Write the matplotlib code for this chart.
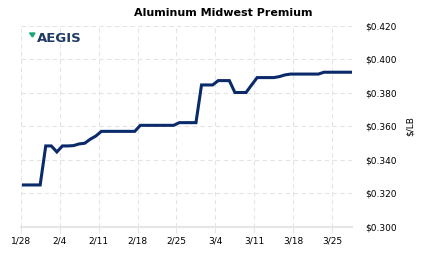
import numpy as np
import matplotlib
matplotlib.use("Agg")
import matplotlib.pyplot as plt
import matplotlib.dates as mdates
from datetime import datetime, timedelta

# daily premium values, $/LB, starting 1/28
start = datetime(2022, 1, 28)
prices = [
    0.3251, 0.3251, 0.3251, 0.3251, 0.3484, 0.3484, 0.3448, 0.3484, 0.3484, 0.3486,
    0.3496, 0.3500, 0.3524, 0.3543, 0.3571, 0.3571, 0.3571, 0.3571, 0.3571, 0.3571,
    0.3571, 0.3607, 0.3607, 0.3607, 0.3607, 0.3607, 0.3607, 0.3607, 0.3623, 0.3623,
    0.3623, 0.3623, 0.3848, 0.3848, 0.3848, 0.3874, 0.3874, 0.3874, 0.3803, 0.3803,
    0.3803, 0.3848, 0.3892, 0.3892, 0.3892, 0.3892, 0.3898, 0.3908, 0.3913, 0.3913,
    0.3913, 0.3913, 0.3913, 0.3913, 0.3924, 0.3924, 0.3924, 0.3924, 0.3924, 0.3924,
]
dates = [start + timedelta(days=i, hours=12) for i in range(len(prices))]

tick_dates = [start + timedelta(days=7 * k) for k in range(9)]
tick_labels = ["1/28", "2/4", "2/11", "2/18", "2/25", "3/4", "3/11", "3/18", "3/25"]
y_ticks = [0.300, 0.320, 0.340, 0.360, 0.380, 0.400, 0.420]

navy = "#0b2a6a"
grid_c = "#e4e4e4"

fig = plt.figure(figsize=(4.23, 2.57), dpi=100)
ax = fig.add_axes([20.7 / 423, 1 - 227 / 257, 331 / 423, 201 / 257])

ax.plot(dates, prices, color=navy, linewidth=2.2, solid_joinstyle="miter")

ax.set_xlim(start, start + timedelta(days=59.49))
ax.set_ylim(0.300, 0.420)
ax.set_xticks(tick_dates)
ax.set_xticklabels(tick_labels)
ax.set_yticks(y_ticks)
ax.set_yticklabels([f"${v:.3f}" for v in y_ticks])

ax.yaxis.tick_right()
ax.yaxis.set_label_position("right")
ax.set_ylabel("$/LB", fontsize=6.5, labelpad=6)

ax.grid(True, color=grid_c, linestyle=(0, (4, 3)), linewidth=0.8)
ax.set_axisbelow(True)
for s in ["top", "right", "left"]:
    ax.spines[s].set_visible(False)
ax.spines["bottom"].set_color("#e6e6e6")
ax.spines["bottom"].set_linewidth(1.6)

ax.tick_params(axis="x", length=4, color="#e6e6e6", labelsize=6.5, pad=3)
ax.tick_params(axis="y", length=0, labelsize=6.5, pad=10)

fig.text(223 / 423, 1 - 13 / 257, "Aluminum Midwest Premium", ha="center", va="center",
         fontsize=8, fontweight="bold")

# logo
fig.text(37 / 423, 1 - 38.5 / 257, "AEGIS", ha="left", va="center", fontsize=9.5,
         fontweight="bold", color="#1f3a64")
fig.patches.append(plt.Polygon([[29.5 / 423, 1 - 33 / 257], [35 / 423, 1 - 33 / 257],
                                [32.5 / 423, 1 - 37 / 257]], closed=True,
                               transform=fig.transFigure, color="#1aa57a"))

fig.savefig("out.png", dpi=100)
